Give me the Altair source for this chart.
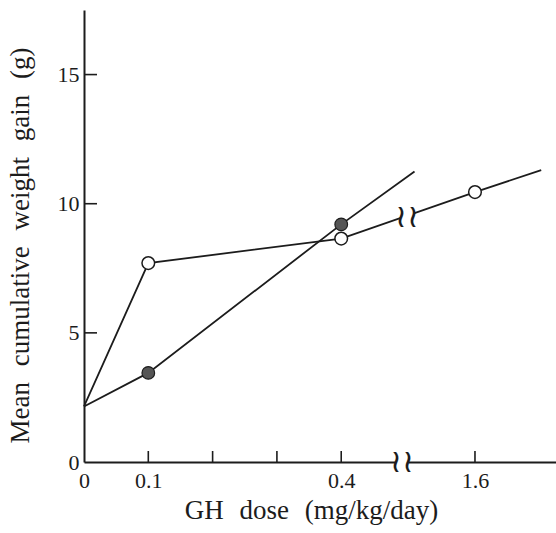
import altair as alt
import pandas as pd

# ---- data (x positions are on the broken axis: 0..0.4 linear, 1.6 placed after the break)
tick_pos = [0.1, 0.2, 0.3, 0.4, 0.608]
label_pos = [0.0, 0.1, 0.4, 0.608]
label_text = ["0", "0.1", "0.4", "1.6"]

y_tick_vals = [5, 10, 15]
y_label_vals = [0, 5, 10, 15]

open_x = [0.0, 0.1, 0.4, 0.608, 0.711]
open_y = [2.15, 7.7, 8.65, 10.45, 11.3]
open_mark = [False, True, True, True, False]

filled_x = [0.0, 0.1, 0.4, 0.514]
filled_y = [2.15, 3.45, 9.2, 11.25]
filled_mark = [False, True, True, False]

break_x = [0.4946, 0.503]
break_y = [0.0, 9.5]

W, H = 472, 452
X_DOMAIN = [0, 0.734]
Y_DOMAIN = [0, 17.5]
SERIF = "Liberation Serif"
INK = "#1c1c1c"

open_df = pd.DataFrame({"x": open_x, "y": open_y, "m": open_mark})
filled_df = pd.DataFrame({"x": filled_x, "y": filled_y, "m": filled_mark})
xt_df = pd.DataFrame({"x": tick_pos})
yt_df = pd.DataFrame({"y": y_tick_vals})
brk_df = pd.DataFrame({"x": break_x, "y": break_y})

gap = "\u2002\u200a"
x_title = gap.join(["GH", "dose", "(mg/kg/day)"])
y_title = gap.join(["Mean", "cumulative", "weight", "gain", "(g)"])

lab_arr = "[" + ",".join("'%s'" % t for t in label_text) + "]"
pos_arr = "[" + ",".join(repr(p) for p in label_pos) + "]"
label_expr = f"{lab_arr}[indexof({pos_arr}, datum.value)]"

xs = alt.Scale(domain=X_DOMAIN, nice=False, zero=False)
ys = alt.Scale(domain=Y_DOMAIN, nice=False, zero=False)

x_axis = alt.Axis(values=label_pos, labelExpr=label_expr, ticks=False, tickSize=0,
                  grid=False, labelFlush=False, labelOverlap=False,
                  labelFont=SERIF, labelFontSize=22, labelColor=INK, labelPadding=8,
                  domainColor=INK, domainWidth=2,
                  title=x_title, titleFont=SERIF, titleFontSize=27, titleFontWeight="normal",
                  titleColor=INK, titleX=227, titleY=56, titleBaseline="alphabetic")
y_axis = alt.Axis(values=y_label_vals, ticks=False, tickSize=0, grid=False,
                  labelFlush=False, labelOverlap=False,
                  labelFont=SERIF, labelFontSize=22, labelColor=INK, labelPadding=5,
                  domainColor=INK, domainWidth=2,
                  title=y_title, titleFont=SERIF, titleFontSize=27, titleFontWeight="normal",
                  titleColor=INK, titleX=-56, titleY=235, titleBaseline="alphabetic",
                  titleAngle=270)

base_axes = alt.Chart(open_df).mark_point(opacity=0).encode(
    x=alt.X("x:Q", scale=xs, axis=x_axis),
    y=alt.Y("y:Q", scale=ys, axis=y_axis),
)

x_ticks = alt.Chart(xt_df).mark_rule(color=INK, strokeWidth=1.6).encode(
    x=alt.X("x:Q", scale=xs), y=alt.value(H), y2=alt.value(H - 11))
y_ticks = alt.Chart(yt_df).mark_rule(color=INK, strokeWidth=1.6).encode(
    y=alt.Y("y:Q", scale=ys), x=alt.value(0), x2=alt.value(13))

open_line = alt.Chart(open_df).mark_line(color=INK, strokeWidth=1.8).encode(
    x=alt.X("x:Q", scale=xs), y=alt.Y("y:Q", scale=ys), order="x:Q")
filled_line = alt.Chart(filled_df).mark_line(color=INK, strokeWidth=1.8).encode(
    x=alt.X("x:Q", scale=xs), y=alt.Y("y:Q", scale=ys), order="x:Q")

mask = alt.Chart(brk_df).mark_square(color="white", opacity=1, size=170, strokeWidth=0).encode(
    x=alt.X("x:Q", scale=xs), y=alt.Y("y:Q", scale=ys))
squig = alt.Chart(brk_df).mark_text(text="\u2240\u2240", font="DejaVu Sans", fontSize=32,
                                    fontWeight=300, color=INK, baseline="middle",
                                    align="center").encode(
    x=alt.X("x:Q", scale=xs), y=alt.Y("y:Q", scale=ys))

open_pts = alt.Chart(open_df).transform_filter("datum.m").mark_point(
    shape="circle", filled=True, fill="white", stroke=INK, strokeWidth=1.5, size=160, opacity=1
).encode(x=alt.X("x:Q", scale=xs), y=alt.Y("y:Q", scale=ys))
filled_pts = alt.Chart(filled_df).transform_filter("datum.m").mark_point(
    shape="circle", filled=True, fill="#555555", stroke=INK, strokeWidth=1.2, size=160, opacity=1
).encode(x=alt.X("x:Q", scale=xs), y=alt.Y("y:Q", scale=ys))

chart = alt.layer(
    base_axes, x_ticks, y_ticks, open_line, filled_line, mask, squig,
    open_pts, filled_pts
).properties(
    width=W, height=H,
    autosize=alt.AutoSizeParams(type="none"),
    padding={"left": 84, "top": 10, "right": 0, "bottom": 71},
    background="white",
).configure_view(stroke=None)

chart.save("out.html", embed_options={"renderer": "svg", "actions": False})
